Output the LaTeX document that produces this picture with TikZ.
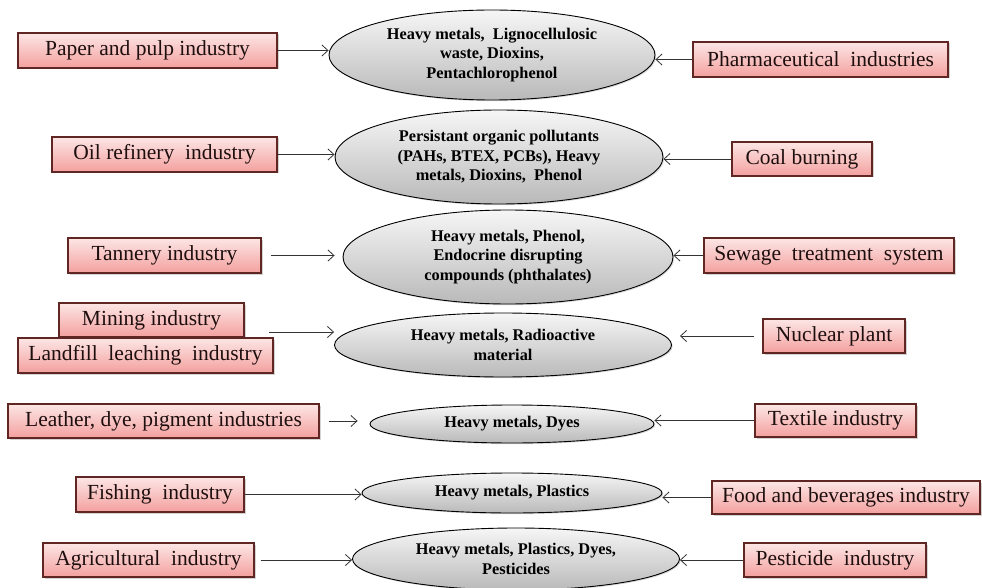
\documentclass[tikz,border=0pt]{standalone}
\usepackage{fontspec}
\setmainfont{Liberation Serif}
\usetikzlibrary{shapes.geometric,arrows.meta,shadows}

\definecolor{boxtop}{RGB}{252,230,229}
\definecolor{boxbot}{RGB}{243,160,158}
\definecolor{boxline}{RGB}{95,38,36}
\definecolor{boxtext}{RGB}{30,15,15}
\definecolor{elltop}{RGB}{246,246,246}
\definecolor{ellbot}{RGB}{185,185,185}

\begin{document}
\begin{tikzpicture}[x=1pt,y=-1pt,
  srcbox/.style={draw=boxline, line width=1.2pt, top color=boxtop, bottom color=boxbot,
    inner sep=2pt, font=\fontsize{21.5}{24}\selectfont, text=boxtext, minimum height=35pt,
    drop shadow={shadow xshift=1.5pt, shadow yshift=-1.5pt, opacity=0.35}},
  pollut/.style={ellipse, draw=black, line width=0.9pt, top color=elltop, bottom color=ellbot,
    inner sep=0pt, align=center, font=\bfseries\fontsize{16.3}{19.5}\selectfont,
    drop shadow={shadow xshift=1.2pt, shadow yshift=-1.2pt, opacity=0.3}},
  flow/.style={draw=black!80, line width=0.8pt, -{Straight Barb[length=6pt,width=11pt]}}
]
\useasboundingbox (0,0) rectangle (982,588);

% pollutant ellipses
\node[pollut, minimum width=326pt, minimum height=90pt] (e1) at (492,55)
  {Heavy metals,\ \ Lignocellulosic\\ waste, Dioxins,\\ Pentachlorophenol};
\node[pollut, minimum width=328pt, minimum height=94pt] (e2) at (499,157)
  {Persistant organic pollutants\\ (PAHs, BTEX, PCBs), Heavy\\ metals, Dioxins,\ \ Phenol};
\node[pollut, minimum width=330pt, minimum height=94pt] (e3) at (508,257)
  {Heavy metals, Phenol,\\ Endocrine disrupting\\ compounds (phthalates)};
\node[pollut, minimum width=337pt, minimum height=64pt] (e4) at (503,345)
  {Heavy metals, Radioactive\\ material};
\node[pollut, minimum width=284pt, minimum height=38pt] (e5) at (512,424)
  {Heavy metals, Dyes};
\node[pollut, minimum width=300pt, minimum height=40pt] (e6) at (512,493)
  {Heavy metals, Plastics};
\node[pollut, minimum width=327pt, minimum height=62pt] (e7) at (516,559)
  {Heavy metals, Plastics, Dyes,\\ Pesticides};

% source boxes, left
\node[srcbox, minimum width=259pt] (paper) at (147.5,50.5) {Paper and pulp industry};
\node[srcbox, minimum width=225pt] (oil) at (164.5,154.5) {Oil refinery\ \ industry};
\node[srcbox, minimum width=193pt] (tan) at (164.5,255.5) {Tannery industry};
\node[srcbox, minimum width=185pt, minimum height=34pt] (mine) at (151.5,320) {Mining industry};
\node[srcbox, minimum width=255pt] (land) at (145.5,355.5) {Landfill\ \ leaching\ \ industry};
\node[srcbox, minimum width=311pt, minimum height=34pt] (lea) at (163.5,421) {Leather,\ dye,\ pigment\ industries};
\node[srcbox, minimum width=168pt] (fish) at (160,494.5) {Fishing\ \ industry};
\node[srcbox, minimum width=211pt, minimum height=34pt] (agri) at (148.5,560) {Agricultural\ \ industry};

% source boxes, right
\node[srcbox, minimum width=255pt] (pharma) at (820.5,59.5) {Pharmaceutical\ \ industries};
\node[srcbox, minimum width=140pt, minimum height=34pt] (coal) at (802,159) {Coal burning};
\node[srcbox, minimum width=250pt] (sew) at (829,255.5) {Sewage\ \ treatment\ \ system};
\node[srcbox, minimum width=142pt, minimum height=34pt] (nuc) at (834,336) {Nuclear plant};
\node[srcbox, minimum width=161pt, minimum height=33pt] (tex) at (835.5,420.5) {Textile industry};
\node[srcbox, minimum width=268pt, minimum height=33pt] (food) at (846,497.5) {Food\ and\ beverages\ industry};
\node[srcbox, minimum width=182pt, minimum height=34pt] (pest) at (835,560) {Pesticide\ \ industry};

% connectors
\draw[flow] (paper.east) -- (paper.east -| e1.west);
\draw[flow] (pharma.west) -- (pharma.west -| e1.east);
\draw[flow] (oil.east) -- (oil.east -| e2.west);
\draw[flow] (coal.west) -- (coal.west -| e2.east);
\draw[flow, shorten <=9pt, shorten >=8pt] (tan.east) -- (tan.east -| e3.west);
\draw[flow] (sew.west) -- (sew.west -| e3.east);
\coordinate (mlstart) at (269,332);
\draw[flow] (mlstart) -- (mlstart -| e4.west);
\draw[flow, shorten <=8pt, shorten >=8pt] (nuc.west) -- (nuc.west -| e4.east);
\draw[flow, shorten <=9pt, shorten >=12pt] (lea.east) -- (lea.east -| e5.west);
\draw[flow] (tex.west) -- (tex.west -| e5.east);
\draw[flow] (fish.east) -- (fish.east -| e6.west);
\draw[flow] (food.west) -- (food.west -| e6.east);
\draw[flow, shorten <=6pt] (agri.east) -- (agri.east -| e7.west);
\draw[flow] (pest.west) -- (pest.west -| e7.east);
\end{tikzpicture}
\end{document}
